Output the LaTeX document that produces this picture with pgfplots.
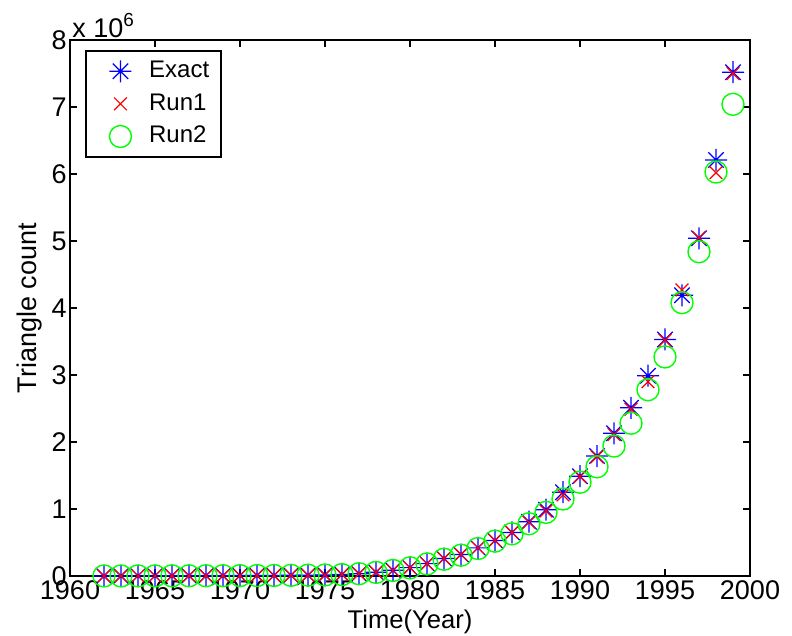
\documentclass[border=0pt]{standalone}
\usepackage{fontspec}
\setmainfont{Liberation Sans}
\usepackage{pgfplots}
\pgfplotsset{compat=1.18}

% MATLAB style asterisk: a plus with a shorter cross
\pgfdeclareplotmark{mstar}{%
  \pgfpathmoveto{\pgfpoint{0pt}{\pgfplotmarksize}}%
  \pgfpathlineto{\pgfpoint{0pt}{-\pgfplotmarksize}}%
  \pgfpathmoveto{\pgfpoint{\pgfplotmarksize}{0pt}}%
  \pgfpathlineto{\pgfpoint{-\pgfplotmarksize}{0pt}}%
  \pgfpathmoveto{\pgfpoint{0.7\pgfplotmarksize}{0.7\pgfplotmarksize}}%
  \pgfpathlineto{\pgfpoint{-0.7\pgfplotmarksize}{-0.7\pgfplotmarksize}}%
  \pgfpathmoveto{\pgfpoint{-0.7\pgfplotmarksize}{0.7\pgfplotmarksize}}%
  \pgfpathlineto{\pgfpoint{0.7\pgfplotmarksize}{-0.7\pgfplotmarksize}}%
  \pgfusepathqstroke}

% legend sample: mark in a wider cell (an empty path widens the cell)
\pgfplotsset{lgd/.style={legend image code/.code={%
    \path (0pt,-1pt) (25pt,1pt);
    \draw[mark repeat=2, mark phase=2, ##1] plot coordinates {(0pt,0pt) (13pt,0pt) (25pt,0pt)};}}}

\pgfplotstableread{
year exact run1 run2
1962 0.001 0.001 0.001
1963 0.001 0.001 0.001
1964 0.002 0.002 0.002
1965 0.002 0.002 0.002
1966 0.003 0.003 0.003
1967 0.003 0.003 0.003
1968 0.004 0.004 0.004
1969 0.005 0.005 0.005
1970 0.006 0.006 0.006
1971 0.007 0.007 0.007
1972 0.008 0.008 0.008
1973 0.010 0.010 0.010
1974 0.012 0.012 0.012
1975 0.015 0.015 0.015
1976 0.022 0.022 0.021
1977 0.035 0.035 0.034
1978 0.055 0.055 0.054
1979 0.085 0.084 0.083
1980 0.125 0.124 0.122
1981 0.185 0.184 0.180
1982 0.26 0.26 0.25
1983 0.32 0.32 0.31
1984 0.42 0.42 0.41
1985 0.53 0.53 0.52
1986 0.65 0.65 0.63
1987 0.81 0.80 0.78
1988 0.99 0.97 0.95
1989 1.25 1.21 1.15
1990 1.49 1.48 1.40
1991 1.79 1.78 1.63
1992 2.13 2.11 1.94
1993 2.51 2.49 2.28
1994 2.99 2.90 2.78
1995 3.53 3.52 3.27
1996 4.19 4.27 4.08
1997 5.04 5.05 4.84
1998 6.21 6.02 6.03
1999 7.52 7.50 7.04
}\tri

\begin{document}
\fontsize{13.5pt}{16pt}\selectfont
\begin{tikzpicture}
\begin{axis}[
  at={(0,0)}, anchor=south west,
  scale only axis,
  width=340pt, height=268pt,
  xmin=1960, xmax=2000,
  ymin=0, ymax=8,
  xtick={1960,1965,...,2000},
  ytick={0,1,...,8},
  /pgf/number format/assume math mode=true,
  xticklabel style={/pgf/number format/1000 sep={}, yshift=2.5pt},
  yticklabel style={xshift=3pt},
  tick align=inside,
  major tick length=3.5pt,
  axis line style={line width=0.8pt},
  every tick/.style={black, line width=0.8pt},
  ticklabel style={font=\fontsize{13.5pt}{16pt}\selectfont},
  xlabel={Time(Year)},
  ylabel={Triangle count},
  xlabel style={yshift=4pt, font=\fontsize{12.8pt}{15pt}\selectfont},
  ylabel style={yshift=-4.5pt, font=\fontsize{13.5pt}{16pt}\selectfont},
  legend style={at={(0.022,0.981)}, anchor=north west,
    draw=black, line width=0.8pt, font=\fontsize{12pt}{15pt}\selectfont,
    row sep=2pt, inner xsep=4pt, inner ysep=3pt},
  legend cell align=left,
  clip=false,
]
\addplot[only marks, lgd, color=blue, mark=mstar, mark size=5.5pt, line width=0.6pt]
  table[x=year, y=exact] {\tri};
\addplot[only marks, lgd, color=red, mark=x, mark size=4.5pt, line width=0.6pt]
  table[x=year, y=run1] {\tri};
\addplot[only marks, lgd, color=green, mark=o, mark size=5.5pt, line width=0.7pt]
  table[x=year, y=run2] {\tri};
\legend{Exact, Run1, Run2}
\node[anchor=south west, inner sep=1pt, font=\fontsize{13.5pt}{16pt}\selectfont]
  at (rel axis cs:0,1) {x 10\textsuperscript{6}};
\end{axis}
\pgfresetboundingbox
\path[use as bounding box] (-35pt,-30pt) rectangle (361pt,288pt);
\end{tikzpicture}
\end{document}
